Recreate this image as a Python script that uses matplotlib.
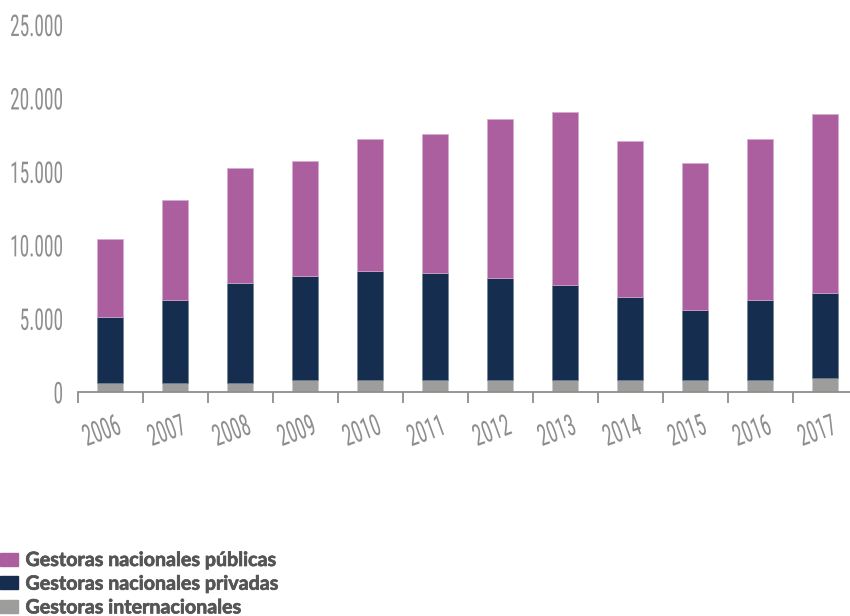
import matplotlib
matplotlib.use("Agg")
import matplotlib.pyplot as plt
import matplotlib.transforms as mtransforms
from matplotlib import font_manager
from matplotlib import patheffects
from matplotlib.patheffects import AbstractPathEffect
from matplotlib.ticker import FuncFormatter, FixedLocator
import numpy as np

years = ["2006", "2007", "2008", "2009", "2010", "2011",
         "2012", "2013", "2014", "2015", "2016", "2017"]
internacionales = [650, 650, 650, 820, 820, 820, 820, 820, 820, 820, 820, 1000]
privadas = [4450, 5610, 6795, 7125, 7445, 7310, 6940, 6460, 5640, 4800, 5440, 5780]
publicas = [5350, 6850, 7805, 7805, 8985, 9445, 10820, 11800, 10620, 9970, 10990, 12140]
y_ticks = [0, 5000, 10000, 15000, 20000, 25000]

series_labels = ["Gestoras nacionales públicas",
                 "Gestoras nacionales privadas",
                 "Gestoras internacionales"]
c_pub, c_priv, c_int = "#AB5F9E", "#152E4F", "#9D9D9C"

fonts = font_manager.fontManager.ttflist
installed = {f.name for f in fonts}
narrow = next((f for f in ["Liberation Sans Narrow", "Roboto Condensed",
                            "DejaVu Sans"] if f in installed), "DejaVu Sans")


def has_bold(name):
    return any(f.name == name and (f.weight in ("bold", 700) or
               (isinstance(f.weight, int) and f.weight >= 700)) for f in fonts)


legend_font = next((f for f in ["Lato", "Open Sans", "Noto Sans", "Liberation Sans"]
                    if f in installed and has_bold(f)), "DejaVu Sans")
axis_grey = "#8E8E8E"


class Squeeze(AbstractPathEffect):
    """Compress glyph outlines along the baseline.

    anchor="center" keeps the ink centred on the text position; with a
    numeric anchor the ink's right edge is moved to that x (display px).
    """

    def __init__(self, sx, anchor="center"):
        super().__init__()
        self.sx = sx
        self.anchor = anchor

    def draw_path(self, renderer, gc, tpath, affine, rgbFace=None):
        ext = tpath.get_extents()
        if self.anchor == "center":
            x0 = 0.5 * (ext.x0 + ext.x1)
            pre = mtransforms.Affine2D().translate(-x0, 0).scale(self.sx, 1).translate(x0, 0)
            renderer.draw_path(gc, tpath, pre + affine, rgbFace)
        else:
            tr = mtransforms.Affine2D().scale(self.sx, 1) + affine
            right = tr.transform([[ext.x1, 0.0]])[0, 0]
            tr = tr + mtransforms.Affine2D().translate(self.anchor - right, 0)
            renderer.draw_path(gc, tpath, tr, rgbFace)


W, H = 850, 616
fig = plt.figure(figsize=(W / 100, H / 100), dpi=100)
ax_left_px = 77.5
ax = fig.add_axes([ax_left_px / W, (H - 392.3) / H, 780.4 / W, 367.3 / H])

x = np.arange(len(years))
bw = 0.4
ax.bar(x, internacionales, bw, color=c_int, edgecolor="#c8c8c8", linewidth=0.4)
ax.bar(x, privadas, bw, bottom=internacionales, color=c_priv,
       edgecolor="#6b7a90", linewidth=0.4)
bottom2 = np.array(internacionales) + np.array(privadas)
ax.bar(x, publicas, bw, bottom=bottom2, color=c_pub,
       edgecolor="#d9a9d0", linewidth=0.5)

ax.set_xlim(-0.5, 11.5)
ax.set_ylim(0, 25000)

for s in ["top", "right", "left"]:
    ax.spines[s].set_visible(False)
ax.spines["bottom"].set_color(axis_grey)
ax.spines["bottom"].set_linewidth(1.3)

tick_size = 21.5
sx = 0.65

# y labels: laid out from the figure's left edge, ink right-aligned at x = 62 px
ax.yaxis.set_major_locator(FixedLocator(y_ticks))
ax.yaxis.set_major_formatter(FuncFormatter(lambda v, p: f"{int(v):,}".replace(",", ".")))
ax.tick_params(axis="y", length=0, pad=(ax_left_px - 1) * 72 / 100,
               labelsize=tick_size, labelcolor=axis_grey)
for lab in ax.get_yticklabels():
    lab.set_horizontalalignment("left")
    lab.set_fontfamily(narrow)
    lab.set_path_effects([Squeeze(sx, 62.0)])

ax.set_xticks(x)
ax.set_xticklabels(years, rotation=20, ha="center", va="top")
ax.set_xticks(np.arange(-0.5, 11.0, 1.0), minor=True)
ax.tick_params(axis="x", which="major", length=0, pad=12, labelsize=tick_size,
               labelcolor=axis_grey)
ax.tick_params(axis="x", which="minor", length=8, width=1.3, color=axis_grey,
               direction="out")
shift = mtransforms.ScaledTranslation(-8 / 100, 0, fig.dpi_scale_trans)
for lab in ax.get_xticklabels():
    lab.set_fontfamily(narrow)
    lab.set_path_effects([Squeeze(sx, "center")])
    lab.set_transform(lab.get_transform() + shift)

# size the legend text so the longest entry spans about 249 px
probe_pt = 12.0
probe = fig.text(0, 0, series_labels[0], family=legend_font, weight="bold", size=probe_pt)
renderer = fig.canvas.get_renderer()
probe_w = probe.get_window_extent(renderer).width
probe.remove()
leg_pt = probe_pt * 249.0 / probe_w
f_px = leg_pt * 100 / 72

handles = [plt.Rectangle((0, 0), 1, 1, color=c) for c in (c_pub, c_priv, c_int)]
leg = fig.legend(handles, series_labels, loc="upper left",
                 bbox_to_anchor=(0, (H - 550) / H),
                 frameon=False, handlelength=17.5 / f_px, handleheight=12.5 / f_px,
                 handletextpad=8 / f_px, labelspacing=3.7 / f_px, borderaxespad=0,
                 borderpad=0,
                 prop={"family": legend_font, "weight": "bold", "size": leg_pt})
for t in leg.get_texts():
    t.set_color("#555555")
    t.set_path_effects([patheffects.withStroke(linewidth=0.5, foreground="#555555")])

fig.savefig("out.png", dpi=100)
